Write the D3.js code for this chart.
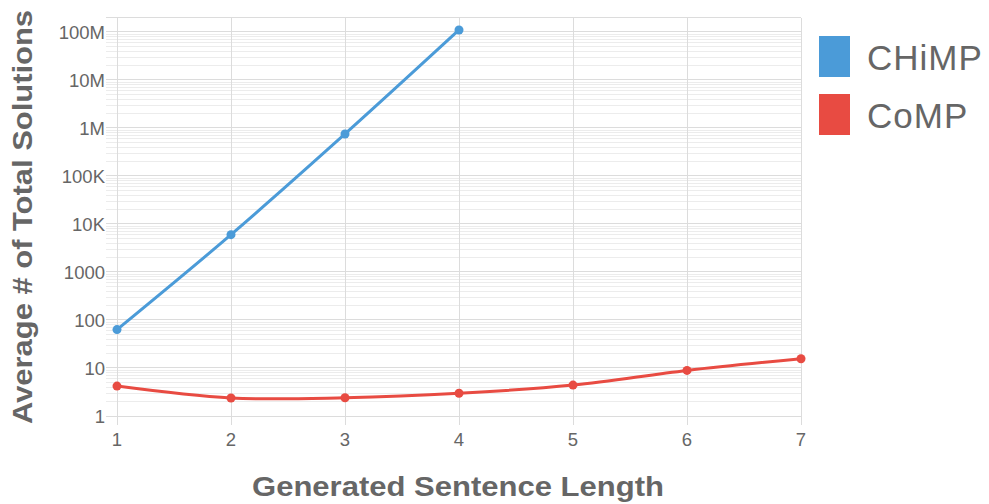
<!DOCTYPE html>
<html>
<head>
<meta charset="utf-8">
<script src="https://cdn.jsdelivr.net/npm/d3@7/dist/d3.min.js"></script>
<style>
  html, body { margin: 0; padding: 0; background: #fff; }
  svg { display: block; font-family: "Liberation Sans", Arial, Helvetica, sans-serif; }
</style>
</head>
<body>
<svg id="chart" width="989" height="504"></svg>
<script>
// Sentence lengths on the x axis
const lengths = [1, 2, 3, 4, 5, 6, 7];
// Average number of total solutions per model
const chimpValues = [63, 6000, 750000, 110000000];
const compValues = [4.2, 2.37, 2.4, 2.97, 4.4, 8.9, 15.6];
const seriesNames = ["CHiMP", "CoMP"];
const seriesColors = ["#4b9bd8", "#e84b42"];
// Labelled y ticks (decades)
const yTickValues = [1, 10, 100, 1000, 1e4, 1e5, 1e6, 1e7, 1e8];
const yTickLabels = ["1", "10", "100", "1000", "10K", "100K", "1M", "10M", "100M"];
const yMax = 2e8;

const svg = d3.select("#chart");
const plot = { left: 117, right: 801, top: 17.5, bottom: 416 };

const x = d3.scaleLinear().domain([1, 7]).range([plot.left, plot.right]);
const y = d3.scaleLog().domain([1, yMax]).range([plot.bottom, plot.top]);

// Minor + major horizontal grid lines
const gridVals = [];
for (let d = 1; d <= 1e8; d *= 10) {
  for (let m = 1; m <= 9; m++) {
    if (m * d <= yMax) gridVals.push(m * d);
  }
}
svg.append("g").selectAll("line").data(gridVals).join("line")
  .attr("x1", 106).attr("x2", plot.right)
  .attr("y1", d => y(d)).attr("y2", d => y(d))
  .attr("stroke", d => yTickValues.includes(d) || d === yMax ? "#dcdcdc" : "#ececec")
  .attr("stroke-width", 1)
  .attr("shape-rendering", "crispEdges");

// Vertical grid lines
svg.append("g").selectAll("line").data(lengths).join("line")
  .attr("x1", d => x(d)).attr("x2", d => x(d))
  .attr("y1", plot.top).attr("y2", 425)
  .attr("stroke", "#dcdcdc")
  .attr("shape-rendering", "crispEdges");

// Y axis labels
svg.append("g").selectAll("text").data(yTickValues).join("text")
  .attr("x", 105).attr("y", d => y(d))
  .attr("dy", "0.36em")
  .attr("text-anchor", "end")
  .attr("font-size", 18.5)
  .attr("fill", "#666")
  .text((d, i) => yTickLabels[i]);

// X axis labels
svg.append("g").selectAll("text").data(lengths).join("text")
  .attr("x", d => x(d)).attr("y", 439)
  .attr("dy", "0.36em")
  .attr("text-anchor", "middle")
  .attr("font-size", 18.5)
  .attr("fill", "#666")
  .text(d => d);

// Axis titles
svg.append("text")
  .attr("x", 458).attr("y", 486)
  .attr("dy", "0.36em")
  .attr("text-anchor", "middle")
  .attr("font-size", 28)
  .attr("font-weight", "bold")
  .attr("fill", "#666")
  .attr("textLength", 412)
  .attr("lengthAdjust", "spacingAndGlyphs")
  .text("Generated Sentence Length");

svg.append("text")
  .attr("transform", "translate(22,217) rotate(-90)")
  .attr("dy", "0.36em")
  .attr("text-anchor", "middle")
  .attr("font-size", 28)
  .attr("font-weight", "bold")
  .attr("fill", "#666")
  .attr("textLength", 414)
  .attr("lengthAdjust", "spacingAndGlyphs")
  .text("Average # of Total Solutions");

// Series lines and points
const series = [
  { name: seriesNames[0], color: seriesColors[0], values: chimpValues },
  { name: seriesNames[1], color: seriesColors[1], values: compValues }
];
const line = d3.line()
  .x(d => x(d.len)).y(d => y(d.v))
  .curve(d3.curveCatmullRom.alpha(0.5));

series.forEach(s => {
  const pts = s.values.map((v, i) => ({ len: lengths[i], v }));
  svg.append("path")
    .datum(pts)
    .attr("d", line)
    .attr("fill", "none")
    .attr("stroke", s.color)
    .attr("stroke-width", 3);
  svg.append("g").selectAll("circle").data(pts).join("circle")
    .attr("cx", d => x(d.len)).attr("cy", d => y(d.v))
    .attr("r", 4.5)
    .attr("fill", s.color);
});

// Legend
const legend = svg.append("g");
series.forEach((s, i) => {
  const g = legend.append("g").attr("transform", `translate(819,${36 + i * 58})`);
  g.append("rect")
    .attr("width", 31).attr("height", 41)
    .attr("fill", s.color);
  g.append("text")
    .attr("x", 48).attr("y", 21)
    .attr("dy", "0.36em")
    .attr("font-size", 35)
    .attr("letter-spacing", 1)
    .attr("fill", "#666")
    .text(s.name);
});
</script>
</body>
</html>
